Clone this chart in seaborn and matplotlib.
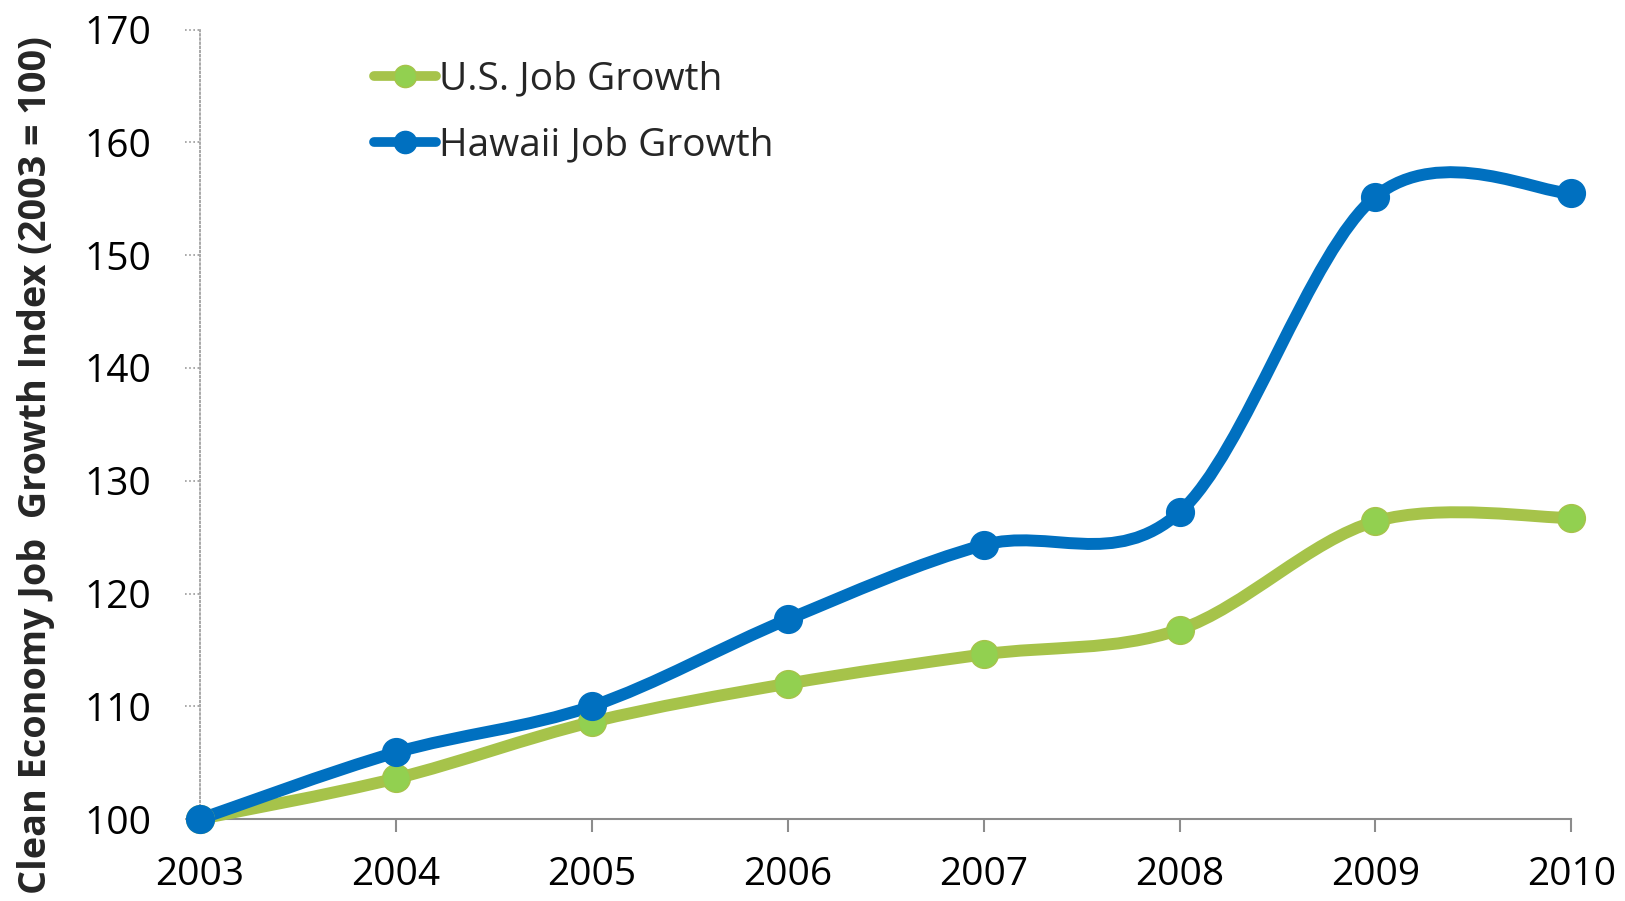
import numpy as np
import pandas as pd
import seaborn as sns
import matplotlib.pyplot as plt
from matplotlib.path import Path
from matplotlib.patches import PathPatch
from matplotlib.lines import Line2D
import matplotlib.transforms as mtransforms

# Data
years = [2003, 2004, 2005, 2006, 2007, 2008, 2009, 2010]
us_growth = [100.0, 103.6, 108.6, 112.0, 114.6, 116.8, 126.4, 126.7]
hawaii_growth = [100.0, 105.9, 110.0, 117.7, 124.3, 127.2, 155.2, 155.5]
series_names = ["U.S. Job Growth", "Hawaii Job Growth"]

df = pd.DataFrame({"Year": years, series_names[0]: us_growth, series_names[1]: hawaii_growth})

sns.set_theme(style="white")
plt.rcParams['font.family'] = ['Open Sans', 'DejaVu Sans']

GREEN_LINE = "#A6C34A"
GREEN_MARK = "#92D050"
BLUE = "#0070C0"


def smooth_path(x, y):
    # Excel-style smoothed line: cubic bezier segments with Catmull-Rom tangents
    pts = np.column_stack([x, y]).astype(float)
    verts = [pts[0]]
    codes = [Path.MOVETO]
    n = len(pts)
    for i in range(n - 1):
        p0 = pts[i - 1] if i > 0 else pts[i]
        p1 = pts[i]
        p2 = pts[i + 1]
        p3 = pts[i + 2] if i + 2 < n else pts[i + 1]
        c1 = p1 + (p2 - p0) / 6.0
        c2 = p2 - (p3 - p1) / 6.0
        verts += [c1, c2, p2]
        codes += [Path.CURVE4] * 3
    return Path(verts, codes)


fig = plt.figure(figsize=(16.25, 9.01), dpi=100)
ax = fig.add_axes([0.123, 0.091, 0.844, 0.876])

styles = [
    (series_names[0], GREEN_LINE, GREEN_MARK),
    (series_names[1], BLUE, BLUE),
]
handles = []
for name, lc, mc in styles:
    patch = PathPatch(smooth_path(df["Year"], df[name]), facecolor="none", edgecolor=lc,
                      lw=8.6, capstyle="round", joinstyle="round", clip_on=False, zorder=3)
    ax.add_patch(patch)
    sns.scatterplot(data=df, x="Year", y=name, ax=ax, s=20 ** 2, color=mc,
                    edgecolor=lc, linewidth=1, clip_on=False, zorder=4)
    handles.append(Line2D([], [], color=lc, lw=7, marker="o", markersize=16,
                          markerfacecolor=mc, markeredgecolor=lc, solid_capstyle="round"))

ax.set_xlim(2003, 2010)
ax.set_ylim(100, 170)
ax.set_xticks(years)
ax.set_yticks(range(100, 171, 10))
ax.set_xlabel("")
ax.set_ylabel("")

for side in ["top", "right"]:
    ax.spines[side].set_visible(False)
ax.spines["bottom"].set_color("#8C8C8C")
ax.spines["bottom"].set_linewidth(1.5)
ax.spines["left"].set_color("#9A9A9A")
ax.spines["left"].set_linewidth(1.2)
ax.spines["left"].set_linestyle((0, (1, 1.5)))

ax.tick_params(axis="x", direction="out", length=9.5, width=1.5, color="#8C8C8C",
               bottom=True, pad=17, labelsize=28, labelcolor="black")
ax.tick_params(axis="y", left=False, pad=29, labelsize=28, labelcolor="black")

# dotted y tick marks, like the reference
trans = mtransforms.blended_transform_factory(ax.transAxes, ax.transData)
for t in ax.get_yticks():
    ax.plot([-0.0105, 0], [t, t], transform=trans, color="#9A9A9A", lw=1.2,
            ls=(0, (1, 1.5)), clip_on=False)

fig.text(0.022, 0.484, "Clean Economy Job  Growth Index (2003 = 100)", rotation=90,
         ha="center", va="center", fontsize=27.2, fontweight="bold")

ax.legend(handles, series_names, loc="upper left", bbox_to_anchor=(0.1155, 0.981),
          frameon=False, fontsize=28, handlelength=1.6, handletextpad=0.08,
          labelspacing=0.72, borderaxespad=0)

fig.savefig("out.png", dpi=100)
